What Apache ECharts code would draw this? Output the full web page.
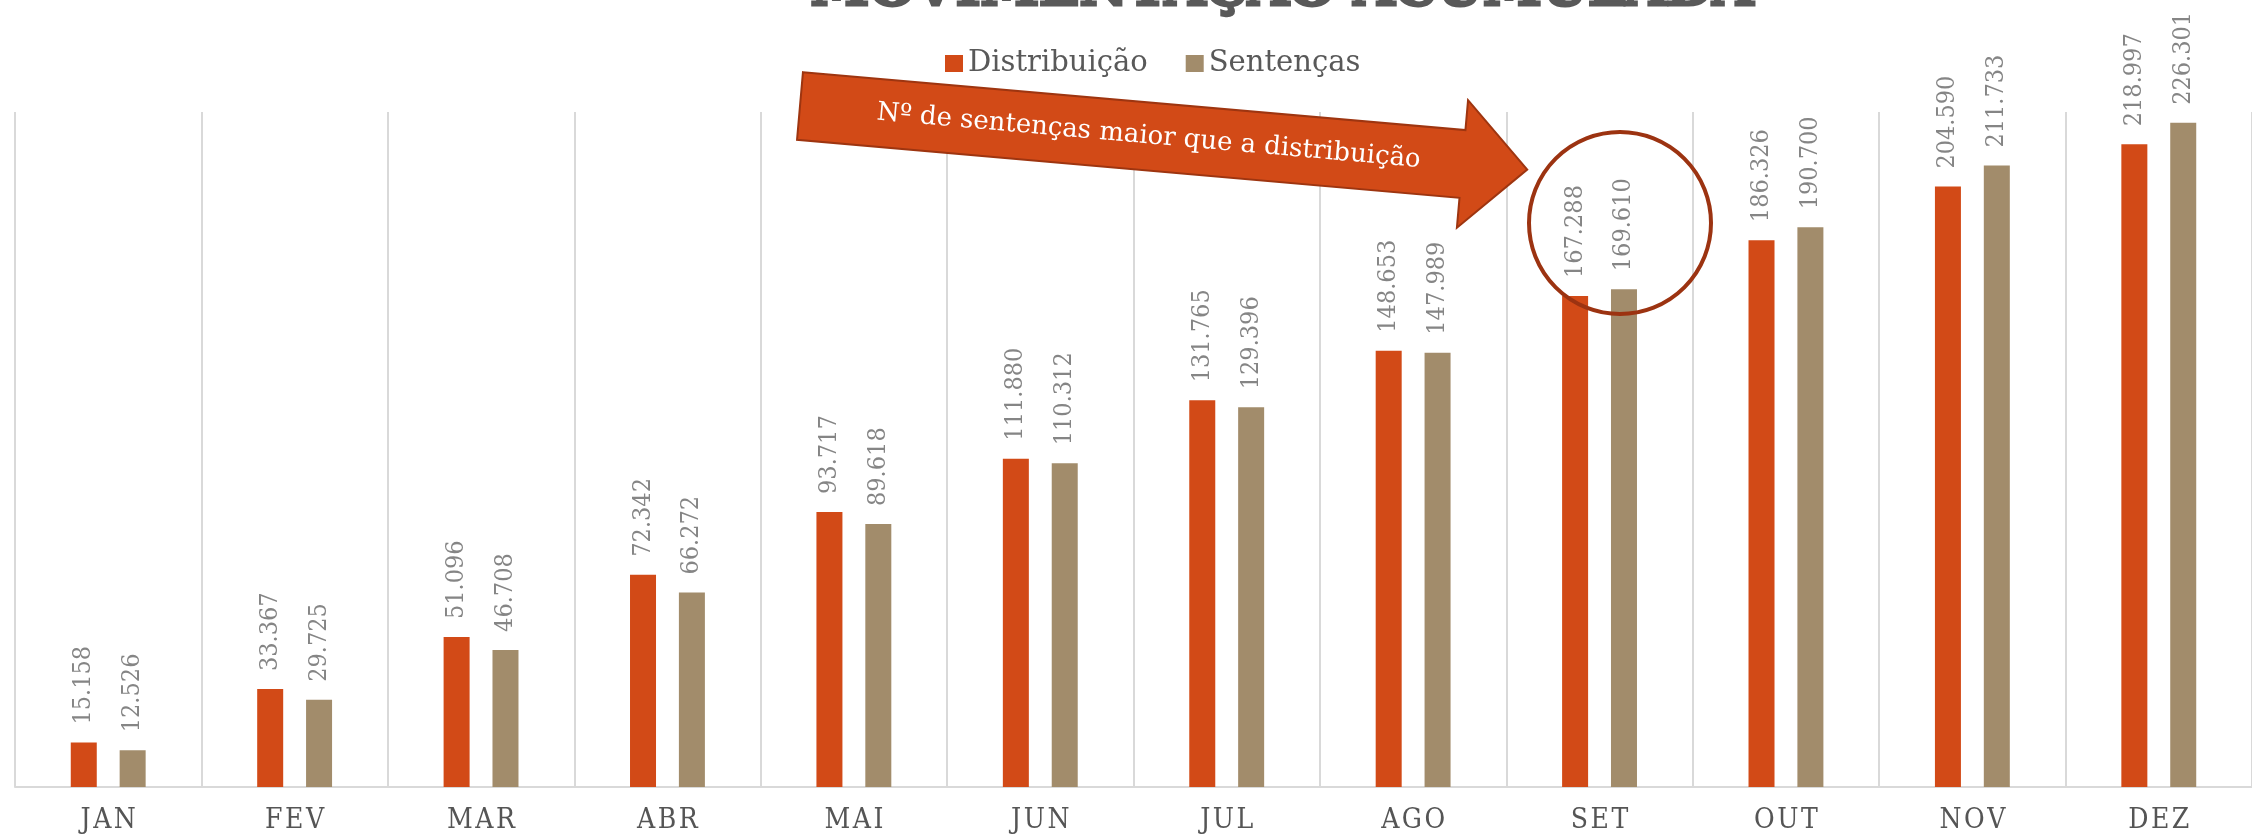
<!DOCTYPE html>
<html>
<head>
<meta charset="utf-8">
<script src="https://cdn.jsdelivr.net/npm/echarts@6/dist/echarts.min.js"></script>
<style>
  html, body { margin: 0; padding: 0; background: #fff; }
  #chart { width: 2252px; height: 839px; }
</style>
</head>
<body>
<div id="chart"></div>
<script>
const meses = ['JAN', 'FEV', 'MAR', 'ABR', 'MAI', 'JUN', 'JUL', 'AGO', 'SET', 'OUT', 'NOV', 'DEZ']
const distribuicao = [15158, 33367, 51096, 72342, 93717, 111880, 131765, 148653, 167288, 186326, 204590, 218997]
const sentencas = [12526, 29725, 46708, 66272, 89618, 110312, 129396, 147989, 169610, 190700, 211733, 226301]

const titulo = 'MOVIMENTAÇÃO ACUMULADA'
const textoSeta = 'Nº de sentenças maior que a distribuição'

const corDist = '#D24A17'
const corSent = '#A28C6B'
const serif = '"DejaVu Serif", "Liberation Serif", serif'
const serifCond = '"DejaVu Serif Condensed", "DejaVu Serif", serif'

// 15158 -> "15.158"
const fmt = v => (v / 1000).toFixed(3)

const chart = echarts.init(document.getElementById('chart'))

const rotulo = {
    show: true,
    position: 'top',
    rotate: 90,
    align: 'left',
    verticalAlign: 'middle',
    distance: 18,
    color: '#858585',
    fontFamily: serifCond,
    fontSize: 25,
    formatter: p => fmt(p.value)
}

const ang = -5 * Math.PI / 180

chart.setOption({
    animation: false,
    legend: {
        data: ['Distribuição', 'Sentenças'],
        left: 940,
        top: 44,
        icon: 'rect',
        itemWidth: 18,
        itemHeight: 17,
        itemGap: 38,
        textStyle: { color: '#595959', fontFamily: serif, fontSize: 29 }
    },
    grid: { left: 15, right: -19, top: 112, bottom: 52, containLabel: false },
    xAxis: {
        type: 'category',
        data: meses,
        axisTick: { show: false },
        axisLine: { lineStyle: { color: '#D9D9D9', width: 2 } },
        splitLine: { show: true, lineStyle: { color: '#D9D9D9', width: 2 } },
        axisLabel: {
            color: '#555555',
            fontFamily: serifCond,
            fontSize: 28,
            margin: 20,
            formatter: v => v.split('').join('\u200A')
        }
    },
    yAxis: { type: 'value', min: 0, max: 230000, show: false, splitLine: { show: false } },
    series: [
        { name: 'Distribuição', type: 'bar', data: distribuicao, barWidth: 26, barGap: '88%',
          itemStyle: { color: corDist }, label: rotulo },
        { name: 'Sentenças', type: 'bar', data: sentencas, barWidth: 26,
          itemStyle: { color: corSent }, label: rotulo }
    ],
    graphic: [
        {
            type: 'text', x: 1282, y: 18, zlevel: 1,
            style: { text: titulo, fill: '#595959', stroke: '#595959', lineWidth: 3,
                     font: 'bold 53px ' + serif, align: 'center', verticalAlign: 'bottom' }
        },
        {
            type: 'polygon', x: 800, y: 106, rotation: ang, zlevel: 1, z: 10,
            shape: { points: [[0, -34], [665, -34], [665, -64], [730, 0], [665, 64], [665, 34], [0, 34]] },
            style: { fill: corDist, stroke: '#9E3510', lineWidth: 2 }
        },
        {
            type: 'text', x: 800 + 350 * Math.cos(ang), y: 106 - 350 * Math.sin(ang), rotation: ang, zlevel: 1, z: 11,
            style: { text: textoSeta, fill: '#fff', font: '26px ' + serif, align: 'center', verticalAlign: 'middle' }
        },
        {
            type: 'circle', shape: { cx: 1620, cy: 223, r: 91 }, zlevel: 1,
            style: { fill: 'none', stroke: '#9C3311', lineWidth: 4 }
        }
    ]
})
</script>
</body>
</html>
